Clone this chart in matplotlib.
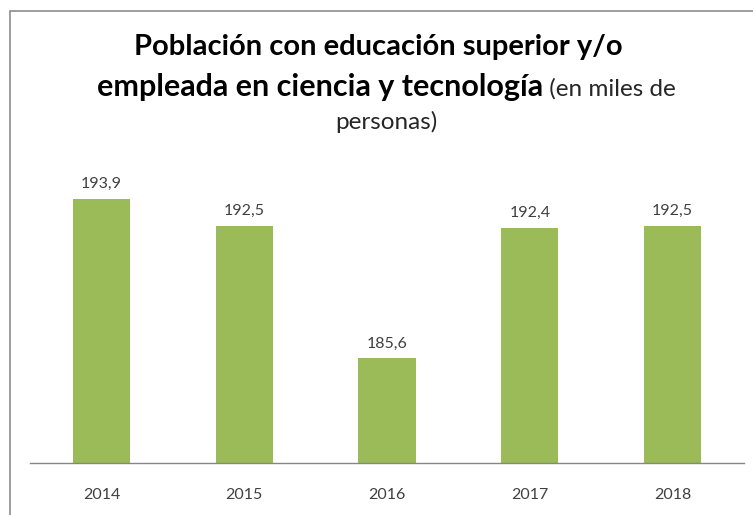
import numpy as np
import matplotlib
matplotlib.use("Agg")
import matplotlib.pyplot as plt
from matplotlib.patches import Rectangle

#   Data
years = ["2014", "2015", "2016", "2017", "2018"]
values = [193.9, 192.5, 185.6, 192.4, 192.5]
labels = ["193,9", "192,5", "185,6", "192,4", "192,5"]

plt.rcParams['font.family'] = ['Lato', 'DejaVu Sans']

barColor = '#9BBB59'
textColor = '#404040'

fig = plt.figure(figsize=(7.53, 5.15), dpi=100)
W, H = 753, 515

#   Chart frame (right and bottom are cut off in the reference)
fig.patches.append(Rectangle((10 / W, -0.05), 1.0, 1 - 11 / H + 0.05,
                             transform=fig.transFigure, fill=False,
                             edgecolor='#8c8c8c', linewidth=1.2))

ax = fig.add_axes([30 / W, 1 - 463 / H, 714 / W, (463 - 156) / H])
x = np.arange(len(years))
ax.bar(x, values, width=0.4, color=barColor, zorder=2)
ax.set_xlim(-0.5, len(years) - 0.5)
ax.set_ylim(180.13, 196.13)
for s in ['top', 'right', 'left']:
    ax.spines[s].set_visible(False)
ax.spines['bottom'].set_color('#868686')
ax.spines['bottom'].set_linewidth(1.0)
ax.set_yticks([])
ax.set_xticks(x)
ax.set_xticklabels(years, fontsize=11.5, color=textColor)
ax.tick_params(axis='x', length=0, pad=18)

for i in range(len(years)):
    ax.annotate(labels[i], (x[i], values[i]), xytext=(0, 5.5), textcoords='offset points',
                ha='center', va='bottom', fontsize=11.5, color=textColor)

#   Title, three lines with mixed weight on the second one
cx = 386 / W
fig.text(378 / W, 1 - 47 / H, "Población con educación superior y/o", ha='center', va='center',
         fontsize=21, fontweight='bold', color='black')

fig.canvas.draw()
r = fig.canvas.get_renderer()
t1 = fig.text(0, 1 - 96 / H, "empleada en ciencia y tecnología", ha='left', va='baseline',
              fontsize=22, fontweight='bold', color='black')
t2 = fig.text(0, 1 - 96 / H, " (en miles de", ha='left', va='baseline',
              fontsize=17.5, color='#262626')
w1 = t1.get_window_extent(r).width
w2 = t2.get_window_extent(r).width
x0 = cx * W - (w1 + w2) / 2
t1.set_x(x0 / W)
t2.set_x((x0 + w1) / W)

fig.text(cx, 1 - 122 / H, "personas)", ha='center', va='center',
         fontsize=17.5, color='#262626')

fig.savefig("out.png", dpi=100)
